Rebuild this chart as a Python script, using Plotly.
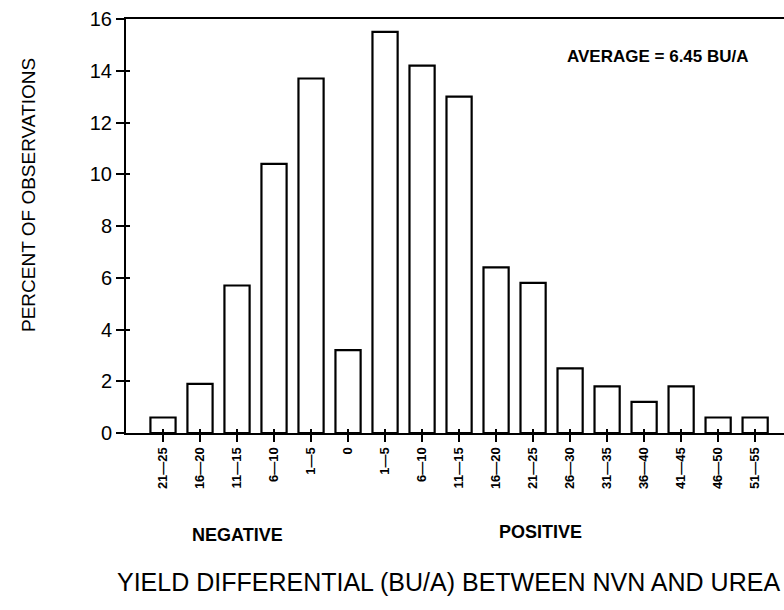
import plotly.graph_objects as go

labels = ["21—25", "16—20", "11—15", "6—10", "1—5", "0", "1—5", "6—10", "11—15",
          "16—20", "21—25", "26—30", "31—35", "36—40", "41—45", "46—50", "51—55"]
percent = [0.6, 1.9, 5.7, 10.4, 13.7, 3.2, 15.5, 14.2, 13.0,
           6.4, 5.8, 2.5, 1.8, 1.2, 1.8, 0.6, 0.6]
y_ticks = [0, 2, 4, 6, 8, 10, 12, 14, 16]

pos = list(range(len(labels)))

W, H = 784, 610
PL, PT, PB, PR = 126, 19, 433, 784  # plot area in page pixels
pw, ph = PR - PL, PB - PT

def px(xp):
    return (xp - PL) / pw

def py(yp):
    return (PB - yp) / ph

FONT = "Liberation Sans"

fig = go.Figure()
fig.add_trace(go.Bar(
    x=pos, y=percent, width=0.68,
    marker=dict(color="white", line=dict(color="black", width=2.2)),
    showlegend=False, hoverinfo="skip",
))

fig.update_layout(
    width=W, height=H, autosize=False,
    margin=dict(l=PL, r=W - PR, t=PT, b=H - PB, pad=0),
    paper_bgcolor="white", plot_bgcolor="white",
    font=dict(family=FONT, color="black"),
    xaxis=dict(
        range=[-1, 16.78], tickvals=pos, ticktext=[f"<b>{t}</b>" for t in labels],
        tickangle=-90,
        tickfont=dict(size=13, family=FONT, color="black"), ticks="outside", ticklen=7,
        tickwidth=2, tickcolor="black", showline=True, linecolor="black",
        linewidth=2, mirror=True, showgrid=False, zeroline=False,
    ),
    xaxis2=dict(
        range=[-1, 16.78], tickvals=pos, overlaying="x", side="bottom",
        anchor="y", ticks="inside", ticklen=4, tickwidth=2, tickcolor="black",
        showticklabels=False, showgrid=False, zeroline=False, showline=False,
    ),
    yaxis=dict(
        range=[0, 16], tickvals=y_ticks, tickfont=dict(size=20, family=FONT),
        ticks="outside", ticklen=8, tickwidth=2, tickcolor="black",
        showline=True, linecolor="black", linewidth=2, showgrid=False,
        zeroline=False,
    ),
    yaxis2=dict(
        range=[0, 16], tickvals=y_ticks, overlaying="y", side="left",
        anchor="x", ticks="inside", ticklen=4, tickwidth=2, tickcolor="black",
        showticklabels=False, showgrid=False, zeroline=False, showline=False,
    ),
)

fig.add_trace(go.Scatter(x=[None], y=[None], xaxis="x2", yaxis="y2",
                         showlegend=False, hoverinfo="skip"))

ann = [
    dict(text="PERCENT OF OBSERVATIONS", x=px(28), y=py(195), textangle=-90,
         font=dict(size=19, family=FONT)),
    dict(text="YIELD DIFFERENTIAL (BU/A) BETWEEN NVN AND UREA", x=px(448),
         y=py(582), font=dict(size=25, family=FONT)),
    dict(text="<b>NEGATIVE</b>", x=px(237), y=py(535), font=dict(size=18, family=FONT)),
    dict(text="<b>POSITIVE</b>", x=px(540), y=py(532), font=dict(size=18, family=FONT)),
    dict(text="<b>AVERAGE = 6.45 BU/A</b>", x=px(658), y=py(57),
         font=dict(size=17, family=FONT)),
]
for a in ann:
    fig.add_annotation(xref="paper", yref="paper", showarrow=False,
                       xanchor="center", yanchor="middle", **a)

fig.write_html(
    "out.html",
    config={"displayModeBar": False},
    post_script="document.body.style.margin='0';document.body.style.overflow='hidden';",
)
